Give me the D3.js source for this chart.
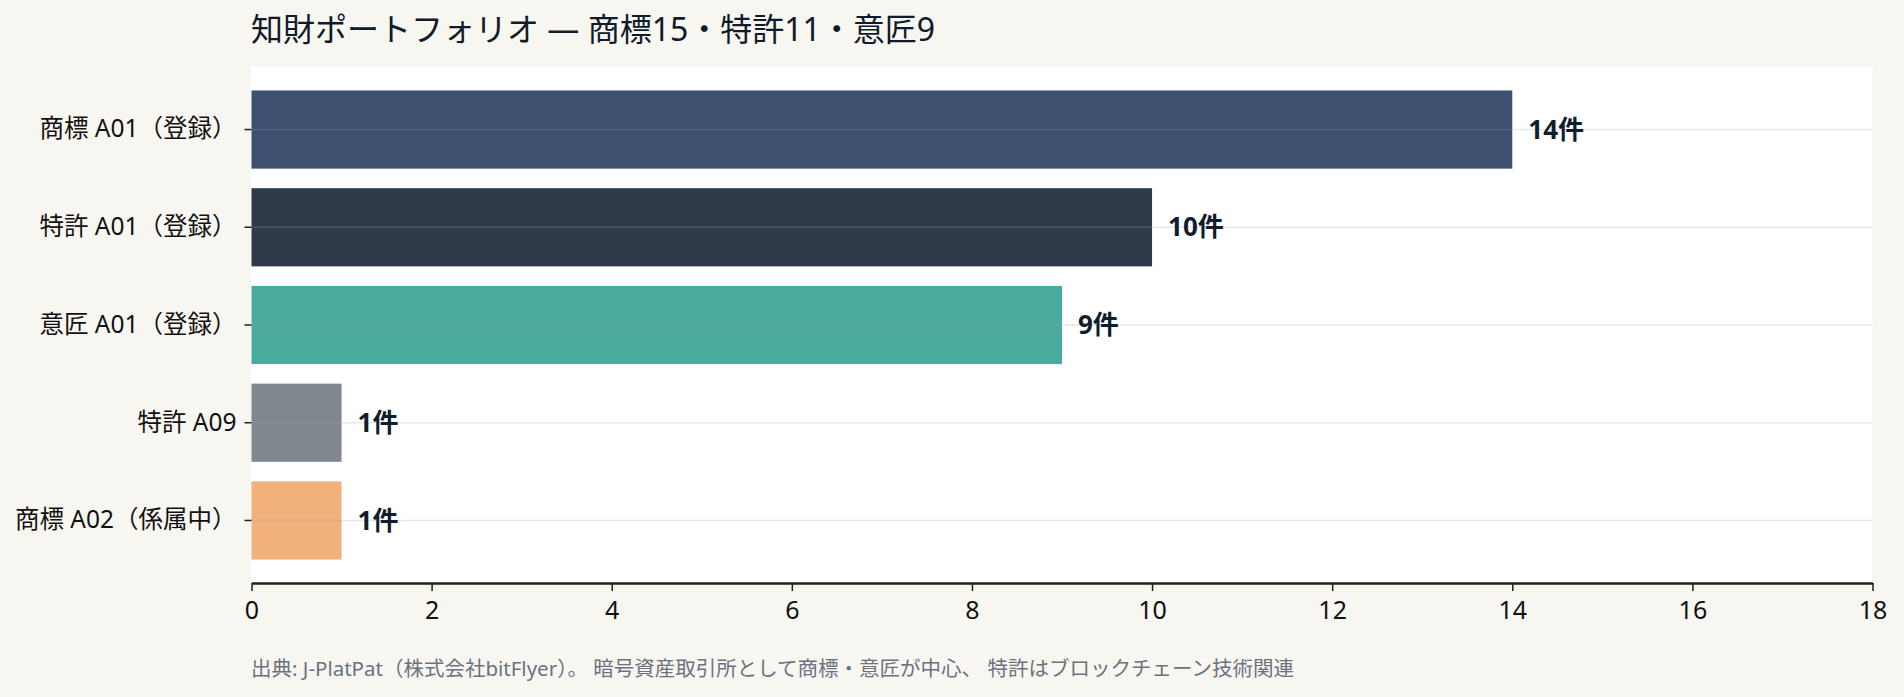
<!DOCTYPE html>
<html>
  <head>
    <meta charset="utf-8">
    <title>知財ポートフォリオ</title>
    <script src="https://d3js.org/d3.v7.min.js"></script>
    <style>
      html, body { margin: 0; padding: 0; background: #f8f6f0; }
      svg { display: block; font-family: "Noto Sans", "Noto Sans CJK JP", sans-serif; }
    </style>
  </head>
  <body>
    <svg id="chart" width="1904" height="697"></svg>
    <script>
// data
var categories = ["商標 A01（登録）", "特許 A01（登録）", "意匠 A01（登録）", "特許 A09", "商標 A02（係属中）"];
var counts = [14, 10, 9, 1, 1];
var barColors = ["#3e5170", "#2e3a4a", "#4aaa9e", "#81878f", "#f2b07a"];
var xTicks = [0, 2, 4, 6, 8, 10, 12, 14, 16, 18];
var titleText = "知財ポートフォリオ — 商標15・特許11・意匠9";
var noteText = "出典: J-PlatPat（株式会社bitFlyer）。 暗号資産取引所として商標・意匠が中心、 特許はブロックチェーン技術関連";

// plot box
var plotLeft = 251.5, plotRight = 1872.5, plotTop = 67, plotBottom = 583;
var fontStack = "\"Noto Sans\", \"Noto Sans CJK JP\", sans-serif";

var rows = categories.map(function(c, i) {
  return { name: c, value: counts[i], color: barColors[i] };
});

var svg = d3.select("#chart");

var x = d3.scaleLinear().domain([0, 18]).range([plotLeft, plotRight]);
var y = d3.scaleBand()
  .domain(categories)
  .range([plotTop, plotBottom])
  .paddingInner(0.2)
  .paddingOuter(0.24);

// plot background
svg.append("rect")
  .attr("x", plotLeft)
  .attr("y", plotTop)
  .attr("width", plotRight - plotLeft)
  .attr("height", plotBottom - plotTop)
  .attr("fill", "#ffffff");

// bars
svg.append("g")
  .selectAll("rect")
  .data(rows)
  .enter().append("rect")
  .attr("x", x(0))
  .attr("y", function(d) { return y(d.name); })
  .attr("width", function(d) { return x(d.value) - x(0); })
  .attr("height", y.bandwidth())
  .attr("fill", function(d) { return d.color; });

// horizontal grid lines (on top of the bars)
svg.append("g")
  .selectAll("line")
  .data(categories)
  .enter().append("line")
  .attr("x1", plotLeft)
  .attr("x2", plotRight)
  .attr("y1", function(d) { return y(d) + y.bandwidth() / 2; })
  .attr("y2", function(d) { return y(d) + y.bandwidth() / 2; })
  .attr("stroke", "#9ca3af")
  .attr("stroke-opacity", 0.25)
  .attr("stroke-width", 1.5);

// value labels
svg.append("g")
  .selectAll("text")
  .data(rows)
  .enter().append("text")
  .attr("x", function(d) { return x(d.value) + 16; })
  .attr("y", function(d) { return y(d.name) + y.bandwidth() / 2; })
  .attr("dy", "0.35em")
  .attr("font-size", 26)
  .attr("font-weight", "bold")
  .attr("fill", "#111c2d")
  .text(function(d) { return d.value + "件"; });

// x axis
var xAxis = svg.append("g")
  .attr("transform", "translate(0," + plotBottom + ")")
  .call(d3.axisBottom(x).tickValues(xTicks).tickSizeInner(8).tickSizeOuter(0).tickPadding(10));
xAxis.select(".domain").attr("stroke", "#1f1f1f").attr("stroke-width", 2.5);
xAxis.selectAll(".tick line").attr("stroke", "#1f1f1f").attr("stroke-width", 1.5);
xAxis.selectAll(".tick text")
  .attr("font-size", 25)
  .attr("font-family", fontStack)
  .attr("fill", "#111");

// y axis
var yAxis = svg.append("g")
  .attr("transform", "translate(" + plotLeft + ",0)")
  .call(d3.axisLeft(y).tickSizeInner(7).tickSizeOuter(0).tickPadding(8));
yAxis.select(".domain").remove();
yAxis.selectAll(".tick line").attr("stroke", "#1f1f1f").attr("stroke-width", 1.5);
yAxis.selectAll(".tick text")
  .attr("font-size", 24.5)
  .attr("font-family", fontStack)
  .attr("fill", "#111");

// title
svg.append("text")
  .attr("x", 251)
  .attr("y", 41)
  .attr("font-size", 32)
  .attr("fill", "#0f1a2a")
  .text(titleText);

// footnote
svg.append("text")
  .attr("x", 251)
  .attr("y", 676)
  .attr("font-size", 20.5)
  .attr("fill", "#6b7280")
  .text(noteText);
    </script>
  </body>
</html>
